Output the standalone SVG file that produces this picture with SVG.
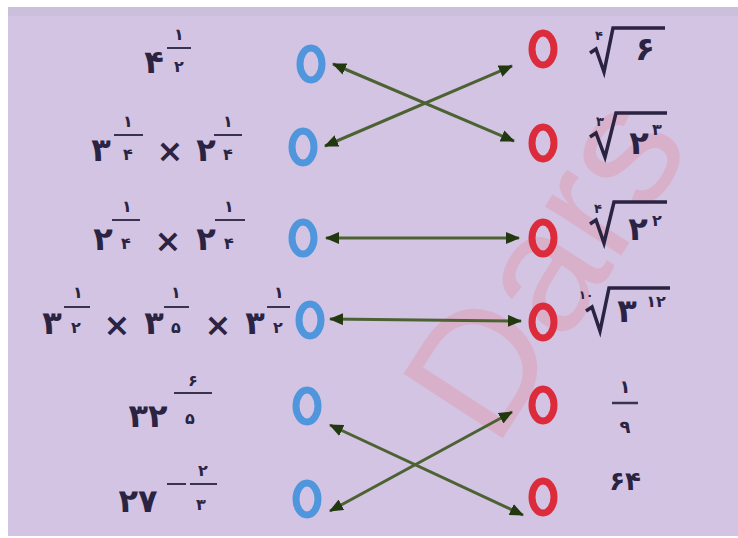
<svg xmlns="http://www.w3.org/2000/svg" width="738" height="538" viewBox="0 0 738 538">
<style>
.b{font-family:"DejaVu Sans","Noto Sans",sans-serif;font-weight:bold;fill:#2a2342;text-anchor:middle}
.big{font-size:32px}
.sm{font-size:16px}
.idx{font-size:13px}
.x{font-family:"DejaVu Sans",sans-serif;font-weight:bold;font-size:32px;fill:#2a2342;text-anchor:middle}
.fl{stroke:#3a3350;stroke-width:2}
.rad{fill:none;stroke:#2a2342;stroke-width:3.5;stroke-linejoin:miter}
.blue{fill:none;stroke:#4f96dc;stroke-width:7}
.red{fill:none;stroke:#dc2c3c;stroke-width:7}
.arr{stroke:#4d6233;stroke-width:3;fill:none;marker-start:url(#ah);marker-end:url(#ah)}
.wm{font-family:"Liberation Sans",sans-serif;font-size:172px;fill:#e88a9a;opacity:0.33}
</style>
<defs>
<marker id="ah" markerUnits="userSpaceOnUse" markerWidth="14" markerHeight="12" refX="13" refY="6" orient="auto-start-reverse">
<path d="M0,0 L14,6 L0,12 z" fill="#22380f"/>
</marker>
</defs>
<rect x="0" y="0" width="738" height="538" fill="#ffffff"/>
<rect x="8" y="7" width="730" height="529" fill="#d3c4e3"/>
<rect x="8" y="7" width="730" height="9" fill="#cbbfdb"/>

<g id="watermark">
<text class="wm" transform="translate(495,450) rotate(-57)">Dars</text>
</g>

<g id="left1">
<text class="b big" x="154" y="73">۴</text>
<text class="b sm" x="179" y="40">۱</text><line class="fl" x1="167" y1="48" x2="191" y2="48"/><text class="b sm" x="179" y="72">۲</text>
</g>
<g id="left2">
<text class="b big" x="101" y="161">۳</text>
<text class="b sm" x="128" y="127">۱</text><line class="fl" x1="114" y1="135" x2="143" y2="135"/><text class="b sm" x="128" y="160">۴</text>
<text class="x" x="170" y="162">×</text>
<text class="b big" x="206" y="161">۲</text>
<text class="b sm" x="228" y="127">۱</text><line class="fl" x1="214" y1="135" x2="242" y2="135"/><text class="b sm" x="228" y="160">۴</text>
</g>
<g id="left3">
<text class="b big" x="103" y="250">۲</text>
<text class="b sm" x="127" y="212">۱</text><line class="fl" x1="112" y1="220" x2="140" y2="220"/><text class="b sm" x="126" y="249">۴</text>
<text class="x" x="168" y="252">×</text>
<text class="b big" x="206" y="250">۲</text>
<text class="b sm" x="229" y="212">۱</text><line class="fl" x1="215" y1="220" x2="245" y2="220"/><text class="b sm" x="229" y="249">۴</text>
</g>
<g id="left4">
<text class="b big" x="52" y="334">۳</text>
<text class="b sm" x="78" y="298">۱</text><line class="fl" x1="64" y1="307" x2="90" y2="307"/><text class="b sm" x="76" y="333">۲</text>
<text class="x" x="117" y="336">×</text>
<text class="b big" x="154" y="334">۳</text>
<text class="b sm" x="176" y="298">۱</text><line class="fl" x1="164" y1="307" x2="189" y2="307"/><text class="b sm" x="176" y="333">۵</text>
<text class="x" x="218" y="336">×</text>
<text class="b big" x="255" y="334">۳</text>
<text class="b sm" x="279" y="298">۱</text><line class="fl" x1="267" y1="307" x2="290" y2="307"/><text class="b sm" x="278" y="333">۲</text>
</g>
<g id="left5">
<text class="b big" x="148" y="427">۳۲</text>
<text class="b sm" x="193" y="386">۶</text><line class="fl" x1="174" y1="393" x2="212" y2="393"/><text class="b sm" x="190" y="424">۵</text>
</g>
<g id="left6">
<text class="b big" x="138" y="512">۲۷</text>
<line class="fl" x1="167" y1="484" x2="186" y2="484"/>
<text class="b sm" x="203" y="476">۲</text><line class="fl" x1="190" y1="484" x2="217" y2="484"/><text class="b sm" x="201" y="510">۳</text>
</g>

<g id="blue-circles">
<ellipse id="b1" class="blue" cx="311" cy="64" rx="11" ry="16"/>
<ellipse id="b2" class="blue" cx="303" cy="147" rx="11" ry="16"/>
<ellipse id="b3" class="blue" cx="303" cy="238" rx="11" ry="16"/>
<ellipse id="b4" class="blue" cx="310" cy="320" rx="11" ry="16"/>
<ellipse id="b5" class="blue" cx="307" cy="406" rx="11" ry="16"/>
<ellipse id="b6" class="blue" cx="307" cy="499" rx="11" ry="16"/>
</g>
<g id="red-circles">
<ellipse id="r1" class="red" cx="543" cy="49" rx="11" ry="16"/>
<ellipse id="r2" class="red" cx="543" cy="143" rx="11" ry="16"/>
<ellipse id="r3" class="red" cx="543" cy="238" rx="11" ry="16"/>
<ellipse id="r4" class="red" cx="543" cy="322" rx="11" ry="16"/>
<ellipse id="r5" class="red" cx="543" cy="405" rx="11" ry="16"/>
<ellipse id="r6" class="red" cx="543" cy="497" rx="11" ry="16"/>
</g>

<g id="connectors">
<line class="arr" x1="333" y1="64" x2="514" y2="141"/>
<line class="arr" x1="325" y1="146" x2="512" y2="66"/>
<line class="arr" x1="326" y1="238" x2="519" y2="238"/>
<line class="arr" x1="330" y1="319" x2="521" y2="321"/>
<line class="arr" x1="330" y1="425" x2="523" y2="515"/>
<line class="arr" x1="330" y1="511" x2="512" y2="412"/>
</g>

<g id="right1">
<text class="b idx" x="599" y="40">۴</text>
<path class="rad" d="M590,53 L596,49 L604,72 L613,28 L665,28"/>
<text class="b big" x="645" y="60">۶</text>
</g>
<g id="right2">
<text class="b idx" x="600" y="126">۳</text>
<path class="rad" d="M590,137 L596,133 L605,157 L616,113 L667,113"/>
<text class="b big" x="639" y="154">۲</text>
<text class="b sm" x="657" y="135">۳</text>
</g>
<g id="right3">
<text class="b idx" x="598" y="213">۴</text>
<path class="rad" d="M590,224 L596,220 L604,243 L614,202 L667,202"/>
<text class="b big" x="638" y="240">۲</text>
<text class="b sm" x="657" y="226">۲</text>
</g>
<g id="right4">
<text class="b" style="font-size:12px" x="586" y="299">۱۰</text>
<path class="rad" d="M586,311 L592,307 L600,331 L609,288 L670,288"/>
<text class="b big" x="627" y="322">۳</text>
<text class="b sm" x="656" y="307">۱۲</text>
</g>
<g id="right5">
<text class="b" style="font-size:18px" x="625" y="393">۱</text>
<line class="fl" x1="612" y1="403" x2="638" y2="403" style="stroke-width:2.5"/>
<text class="b" style="font-size:18px" x="625" y="433">۹</text>
</g>
<g id="right6">
<text class="b" style="font-size:26px" x="625" y="490">۶۴</text>
</g>
</svg>
